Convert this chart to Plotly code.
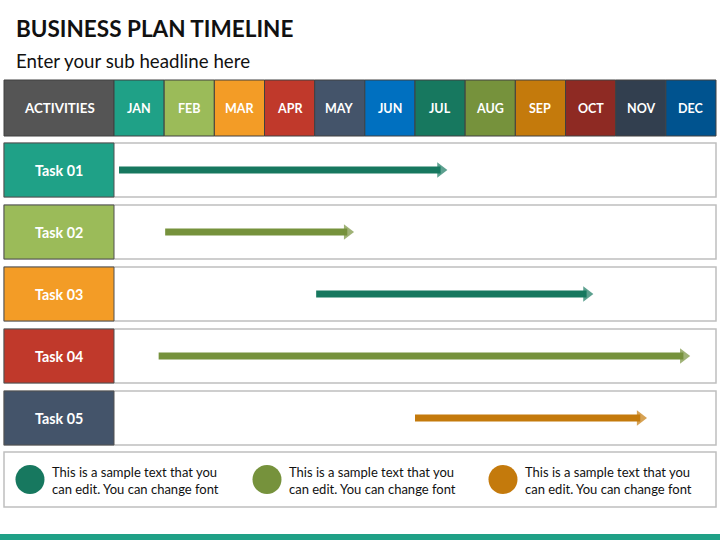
import plotly.graph_objects as go

# ---------------- data ----------------
months = ["JAN", "FEB", "MAR", "APR", "MAY", "JUN", "JUL", "AUG", "SEP", "OCT", "NOV", "DEC"]
month_colors = ["#1FA187", "#9BBB59", "#F39C26", "#C0392B", "#44546A", "#0070C0",
                "#17785F", "#76923C", "#C47A0C", "#8E2A23", "#323F4F", "#00538F"]
tasks = ["Task 01", "Task 02", "Task 03", "Task 04", "Task 05"]
task_colors = ["#1FA187", "#9BBB59", "#F39C26", "#C0392B", "#44546A"]
task_start = [0.10, 1.02, 4.03, 0.89, 6.00]   # month position (0 = start of JAN)
task_end = [6.66, 4.80, 9.57, 11.50, 10.64]
arrow_colors = ["#17785F", "#76923C", "#17785F", "#76923C", "#C47A0C"]
note_texts = ["This is a sample text that you<br>can edit. You can change font"] * 3
note_colors = ["#17785F", "#76923C", "#C47A0C"]

title = "BUSINESS PLAN TIMELINE"
subtitle = "Enter your sub headline here"

# ---------------- geometry (pixel layout -> axis units) ----------------
W, H = 720, 540
X0, COLW = 114, 602 / 12          # x pixel of JAN start, month width
ROW0, PITCH = 170, 62             # y pixel of first task row centre, row pitch


def px(xp):
    return (xp - X0) / COLW


def py(yp):
    return (yp - ROW0) / PITCH


FONT = "Lato"
fig = go.Figure()
shapes = []
annotations = []

# header
shapes.append(dict(type="rect", x0=px(4), x1=px(114), y0=py(80), y1=py(136),
                   fillcolor="#555555", line=dict(color="#404040", width=1), layer="below"))
annotations.append(dict(x=px(59), y=py(108), text="<b>ACTIVITIES</b>", showarrow=False,
                        font=dict(family=FONT, size=13.3, color="white")))
for m, (name, col) in enumerate(zip(months, month_colors)):
    shapes.append(dict(type="rect", x0=m, x1=m + 1, y0=py(80), y1=py(136),
                       fillcolor=col, line=dict(color="#404040", width=1), layer="below"))
    annotations.append(dict(x=m + 0.5, y=py(108), text=f"<b>{name}</b>", showarrow=False,
                            font=dict(family=FONT, size=12.5, color="white")))

# task rows
for i, (t, col) in enumerate(zip(tasks, task_colors)):
    shapes.append(dict(type="rect", x0=px(4), x1=px(716), y0=i - 27 / PITCH, y1=i + 27 / PITCH,
                       fillcolor="white", line=dict(color="#BFBFBF", width=1.5), layer="below"))
    shapes.append(dict(type="rect", x0=px(4), x1=0, y0=i - 27 / PITCH, y1=i + 27 / PITCH,
                       fillcolor=col, line=dict(color="#505050", width=1), layer="below"))
    annotations.append(dict(x=px(59), y=i, text=f"<b>{t}</b>", showarrow=False,
                            font=dict(family=FONT, size=14.3, color="white")))

# arrows
head = 7.5 / COLW  # tip offset of triangle marker
for i, (s, e, c) in enumerate(zip(task_start, task_end, arrow_colors)):
    fig.add_trace(go.Scatter(
        x=[s, e - head], y=[i, i], mode="lines+markers",
        line=dict(color=c, width=7),
        marker=dict(symbol=["circle", "triangle-right"], size=[0, 13.5], color=c,
                    line=dict(width=0)),
        hoverinfo="skip", showlegend=False))

# notes box
shapes.append(dict(type="rect", x0=px(4), x1=px(716), y0=py(452), y1=py(507),
                   fillcolor="white", line=dict(color="#BFBFBF", width=1.5), layer="below"))
note_cx = [30, 267, 503]
for cx, txt, col in zip(note_cx, note_texts, note_colors):
    shapes.append(dict(type="circle", x0=px(cx - 14.5), x1=px(cx + 14.5),
                       y0=py(479.5 - 14.5), y1=py(479.5 + 14.5),
                       fillcolor=col, line=dict(width=0)))
    annotations.append(dict(x=px(cx + 19.5), y=py(480), text=txt, showarrow=False,
                            xanchor="left", align="left",
                            font=dict(family=FONT, size=13, color="#111111")))

# bottom band
shapes.append(dict(type="rect", x0=px(0), x1=px(720), y0=py(534), y1=py(541),
                   fillcolor="#1FA187", line=dict(width=0)))

# titles
annotations.append(dict(xref="paper", yref="paper", x=14 / W, y=1 - 29 / H, xanchor="left",
                        yanchor="middle", text=f"<b>{title}</b>", showarrow=False,
                        font=dict(family=FONT, size=22.5, color="#111111")))
annotations.append(dict(xref="paper", yref="paper", x=14 / W, y=1 - 61 / H, xanchor="left",
                        yanchor="middle", text=subtitle, showarrow=False,
                        font=dict(family=FONT, size=18.7, color="#111111")))

fig.update_layout(
    width=W, height=H, margin=dict(l=0, r=0, t=0, b=0, pad=0),
    paper_bgcolor="white", plot_bgcolor="white",
    xaxis=dict(range=[px(0), px(W)], visible=False, fixedrange=True),
    yaxis=dict(range=[py(H), py(0)], visible=False, fixedrange=True),
    shapes=shapes, annotations=annotations, showlegend=False,
)

fig.write_html("out.html", config={"displayModeBar": False},
               post_script="document.body.style.margin='0';document.body.style.overflow='hidden';")
